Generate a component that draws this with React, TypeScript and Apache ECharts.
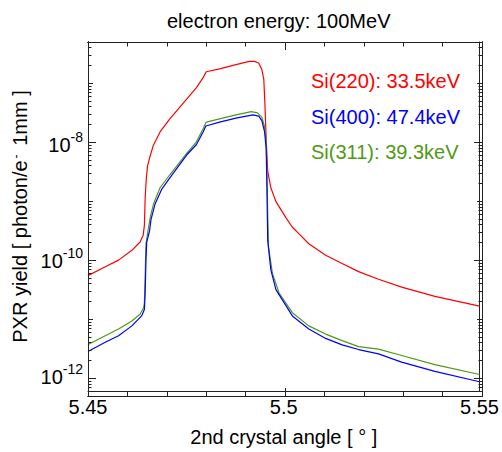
import React, { useEffect, useRef } from "react";
import * as echarts from "echarts";

// ---------- data ----------
const X_MIN = 5.45;
const X_MAX = 5.55;
const Y_MIN = 5e-13;
const Y_MAX = 5e-7;

const TITLE = "electron energy: 100MeV";
const X_NAME = "2nd crystal angle [ ° ]";
const SERIES_NAMES = ["Si(220): 33.5keV", "Si(400): 47.4keV", "Si(311): 39.3keV"];
const SERIES_COLORS = ["#ff0000", "#0000ff", "#4f9a14"];

const LABELED_DECADES = [1e-12, 1e-10, 1e-8];
const UNLABELED_DECADES = [1e-11, 1e-9, 1e-7];
const X_TICK_LABELS = ["5.45", "5.5", "5.55"];

const redX = [5.45, 5.4544, 5.4578, 5.4612, 5.4633, 5.4641, 5.4644, 5.4646, 5.4649, 5.4652, 5.4657, 5.4667, 5.4684, 5.4709, 5.4752, 5.4777, 5.4794, 5.4802, 5.4836, 5.4878, 5.4912, 5.4925, 5.4936, 5.4944, 5.4949, 5.4952, 5.4955, 5.4959, 5.4967, 5.498, 5.5005, 5.5022, 5.5039, 5.5064, 5.5107, 5.5149, 5.5191, 5.5242, 5.5301, 5.5386, 5.55];
const redY = [4.82e-11, 6.85e-11, 8.89e-11, 1.31e-10, 1.82e-10, 2.39e-10, 3.52e-10, 1.05e-9, 2.3e-9, 3.66e-9, 5.01e-9, 8.41e-9, 1.42e-8, 2.39e-8, 5.21e-8, 8.23e-8, 1.22e-7, 1.54e-7, 1.73e-7, 2.04e-7, 2.32e-7, 2.32e-7, 2.18e-7, 1.68e-7, 1.14e-7, 4.01e-8, 1.09e-8, 2.99e-9, 1.56e-9, 9.0e-10, 4.82e-10, 3.27e-10, 2.51e-10, 1.7e-10, 1.08e-10, 7.8e-11, 5.64e-11, 4.17e-11, 3.05e-11, 2.12e-11, 1.44e-11];

const blueX = [5.45, 5.4544, 5.4578, 5.4612, 5.4637, 5.4644, 5.4646, 5.4648, 5.465, 5.4657, 5.4661, 5.4671, 5.4688, 5.4709, 5.4752, 5.4777, 5.4794, 5.4801, 5.4836, 5.4878, 5.4921, 5.4936, 5.4944, 5.4951, 5.4955, 5.4957, 5.4959, 5.4967, 5.498, 5.5022, 5.5064, 5.5107, 5.5149, 5.5191, 5.5242, 5.5301, 5.5386, 5.55];
const blueY = [2.39e-12, 3.44e-12, 4.46e-12, 6.59e-12, 9.77e-12, 1.26e-11, 2.42e-11, 8.89e-11, 1.82e-10, 2.79e-10, 4.46e-10, 8.09e-10, 1.46e-9, 2.3e-9, 5.7e-9, 8.65e-9, 1.42e-8, 1.8e-8, 2.1e-8, 2.45e-8, 2.79e-8, 2.65e-8, 2.23e-8, 1.42e-8, 7.4e-9, 1.56e-9, 1.94e-10, 6.03e-11, 2.76e-11, 9.77e-12, 5.8e-12, 4.01e-12, 3.1e-12, 2.58e-12, 2.17e-12, 1.57e-12, 1.09e-12, 7.21e-13];

const greenX = [5.45, 5.4544, 5.4578, 5.4612, 5.4633, 5.4642, 5.4644, 5.4646, 5.4648, 5.4653, 5.4659, 5.4667, 5.4684, 5.4709, 5.4752, 5.4777, 5.4794, 5.4802, 5.4836, 5.4878, 5.4917, 5.4933, 5.4944, 5.495, 5.4955, 5.4957, 5.4959, 5.4961, 5.4971, 5.4988, 5.5022, 5.5064, 5.5107, 5.5149, 5.5191, 5.5242, 5.5301, 5.5386, 5.55];
const greenY = [3.14e-12, 4.46e-12, 5.8e-12, 8.0e-12, 1.04e-11, 1.35e-11, 1.64e-11, 4.63e-11, 1.7e-10, 2.79e-10, 4.82e-10, 8.09e-10, 1.56e-9, 2.61e-9, 6.1e-9, 9.62e-9, 1.61e-8, 2.1e-8, 2.39e-8, 2.79e-8, 3.18e-8, 3.02e-8, 2.55e-8, 1.84e-8, 1.09e-8, 2.99e-9, 5.48e-10, 1.5e-10, 5.27e-11, 2.42e-11, 1.11e-11, 6.59e-12, 4.76e-12, 3.67e-12, 2.9e-12, 2.62e-12, 2.04e-12, 1.42e-12, 9.62e-13];

// minor tick positions k * 10^e of the log axis
const MINOR_TICKS: number[] = [];
for (let e = -13; e <= -7; e++) {
  for (let k = 2; k <= 9; k++) {
    const v = k * Math.pow(10, e);
    if (v > Y_MIN * 1.0001 && v < Y_MAX * 0.9999) MINOR_TICKS.push(v);
  }
}

const FONT = '"Liberation Sans", Arial, Helvetica, sans-serif';
const AXIS_COLOR = "#222";
const GRID = { left: 88, right: 20, top: 42, bottom: 56 };

function pairs(xs: number[], ys: number[]) {
  return xs.map((x, i) => [x, ys[i]]);
}

const axisLineCfg = { show: true, onZero: false, lineStyle: { color: AXIS_COLOR, width: 1 } };

// Option of a transparent overlay chart holding only the frame ticks
function tickLayerOption(yTicks: number[], yLen: number, withX: boolean) {
  const xDef = (position: string) => ({
    type: "value",
    min: X_MIN,
    max: X_MAX,
    interval: 0.05,
    position,
    axisLine: { show: true, onZero: false, lineStyle: { color: AXIS_COLOR, width: 1 } },
    splitLine: { show: false },
    axisTick: { show: withX, inside: true, length: 8, lineStyle: { color: AXIS_COLOR, width: 1 } },
    minorTick: { show: withX, splitNumber: 5, length: 4.5, lineStyle: { color: AXIS_COLOR, width: 1 } },
    axisLabel: { show: false },
  });
  const yDef = (position: string) => ({
    type: "log",
    logBase: 10,
    min: Y_MIN,
    max: Y_MAX,
    position,
    axisLine: { show: true, onZero: false, lineStyle: { color: AXIS_COLOR, width: 1 } },
    splitLine: { show: false },
    minorTick: { show: false },
    axisTick: { show: true, inside: true, length: yLen, customValues: yTicks, lineStyle: { color: AXIS_COLOR, width: 1 } },
    axisLabel: { show: false },
  });
  return {
    animation: false,
    grid: { ...GRID },
    xAxis: [xDef("bottom"), xDef("top")],
    yAxis: [yDef("left"), yDef("right")],
    series: [],
  };
}

export default function App() {
  const mainRef = useRef<HTMLDivElement>(null);
  const t1 = useRef<HTMLDivElement>(null);
  const t2 = useRef<HTMLDivElement>(null);
  const t3 = useRef<HTMLDivElement>(null);

  useEffect(() => {
    if (!mainRef.current || !t1.current || !t2.current || !t3.current) return;
    const chart = echarts.init(mainRef.current, undefined, { renderer: "svg" });
    const seriesData = [pairs(redX, redY), pairs(blueX, blueY), pairs(greenX, greenY)];
    chart.setOption({
      animation: false,
      backgroundColor: "#fff",
      title: {
        text: TITLE,
        left: 162,
        top: 6,
        textStyle: { fontSize: 20, fontWeight: "normal", fontFamily: FONT, color: "#000" },
      },
      legend: {
        orient: "vertical",
        right: 37,
        top: 66,
        itemWidth: 0,
        itemHeight: 0,
        itemGap: 15.5,
        selectedMode: false,
        textStyle: { fontSize: 20, lineHeight: 20, fontFamily: FONT },
        data: SERIES_NAMES.map((n, i) => ({ name: n, textStyle: { color: SERIES_COLORS[i] } })),
      },
      grid: { ...GRID },
      xAxis: [
        {
          type: "value",
          min: X_MIN,
          max: X_MAX,
          interval: 0.05,
          position: "bottom",
          name: X_NAME,
          nameLocation: "middle",
          nameGap: 36,
          nameTextStyle: { fontSize: 20, fontFamily: FONT, color: "#000" },
          axisLine: axisLineCfg,
          splitLine: { show: false },
          axisTick: { show: false },
          minorTick: { show: false },
          axisLabel: {
            show: true,
            margin: 6,
            fontSize: 20,
            fontFamily: FONT,
            color: "#000",
            formatter: (v: number) => {
              const idx = X_TICK_LABELS.findIndex((t) => Math.abs(parseFloat(t) - v) < 1e-6);
              return idx >= 0 ? X_TICK_LABELS[idx] : "";
            },
          },
        },
        {
          type: "value",
          min: X_MIN,
          max: X_MAX,
          position: "top",
          axisLine: axisLineCfg,
          splitLine: { show: false },
          axisTick: { show: false },
          axisLabel: { show: false },
        },
      ],
      yAxis: [
        {
          type: "log",
          logBase: 10,
          min: Y_MIN,
          max: Y_MAX,
          position: "left",
          axisLine: axisLineCfg,
          splitLine: { show: false },
          axisTick: { show: false },
          minorTick: { show: false },
          axisLabel: {
            show: true,
            customValues: LABELED_DECADES,
            margin: 5,
            padding: [8, 0, 0, 0],
            formatter: (v: number) => `{b|10}{s|${Math.round(Math.log10(v))}}`,
            rich: {
              b: { fontSize: 20, lineHeight: 30, fontFamily: FONT, color: "#000" },
              s: { fontSize: 14, lineHeight: 14, verticalAlign: "top", fontFamily: FONT, color: "#000" },
            },
          },
          name: "PXR yield [ photon/e{s|-} 1mm ]",
          nameLocation: "middle",
          nameGap: 56,
          nameRotate: 90,
          nameTextStyle: {
            fontSize: 20,
            fontFamily: FONT,
            color: "#000",
            rich: { s: { fontSize: 12, verticalAlign: "top", lineHeight: 12, padding: [0, 3, 0, 2], fontFamily: FONT, color: "#000" } },
          },
        },
        {
          type: "log",
          logBase: 10,
          min: Y_MIN,
          max: Y_MAX,
          position: "right",
          axisLine: axisLineCfg,
          splitLine: { show: false },
          axisTick: { show: false },
          axisLabel: { show: false },
        },
      ],
      series: SERIES_NAMES.map((n, i) => ({
        name: n,
        type: "line",
        xAxisIndex: 0,
        yAxisIndex: 0,
        data: seriesData[i],
        showSymbol: false,
        symbol: "none",
        clip: true,
        lineStyle: { color: SERIES_COLORS[i], width: 1.2 },
        itemStyle: { color: SERIES_COLORS[i] },
        z: i === 1 ? 3 : 2,
      })),
    });

    // tick overlays: decades with labels, other decades, minor ticks
    const c1 = echarts.init(t1.current, undefined, { renderer: "svg" });
    c1.setOption(tickLayerOption(LABELED_DECADES, 8, true));
    const c2 = echarts.init(t2.current, undefined, { renderer: "svg" });
    c2.setOption(tickLayerOption(UNLABELED_DECADES, 5, false));
    const c3 = echarts.init(t3.current, undefined, { renderer: "svg" });
    c3.setOption(tickLayerOption(MINOR_TICKS, 3.5, false));

    return () => {
      chart.dispose();
      c1.dispose();
      c2.dispose();
      c3.dispose();
    };
  }, []);

  const layer: React.CSSProperties = { position: "absolute", left: 0, top: 0, width: 502, height: 452 };
  return (
    <div style={{ position: "fixed", left: 0, top: 0, width: 502, height: 452 }}>
      <div ref={mainRef} style={layer} />
      <div ref={t1} style={{ ...layer, pointerEvents: "none" }} />
      <div ref={t2} style={{ ...layer, pointerEvents: "none" }} />
      <div ref={t3} style={{ ...layer, pointerEvents: "none" }} />
    </div>
  );
}
